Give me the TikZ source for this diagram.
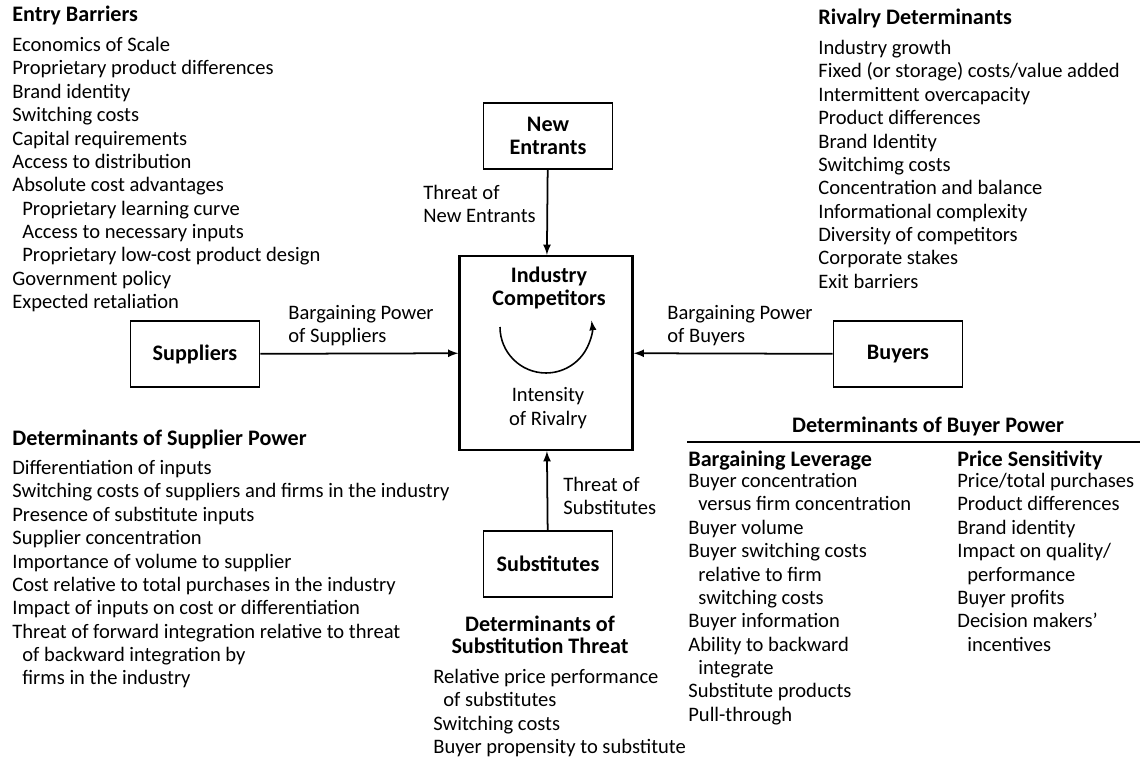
\documentclass[tikz,border=0pt]{standalone}
\usepackage{fontspec}
\setmainfont{Carlito}
\def\diagfont{\fontsize{11.7pt}{13.3pt}\selectfont}
\def\diagbold{\fontsize{12.6pt}{12.8pt}\selectfont\bfseries}

\begin{document}
\begin{tikzpicture}[x=0.02cm,y=-0.02cm,>=latex,
  box/.style={draw,line width=1pt,minimum width=2.58cm,minimum height=1.32cm,font=\diagbold},
  txt/.style={align=left,anchor=north west,inner sep=0pt,font=\diagfont},
  head/.style={anchor=base west,inner sep=0pt,font=\diagbold}]
\useasboundingbox (0,0) rectangle (1147,757);
\def\hForce{354}
\path
(546,353) node [draw,line width=1.3pt,minimum width=3.46cm,minimum height=3.88cm] (cmp) {}
(548,136) node [box,align=center] (new) {New\\Entrants}
(195,\hForce) node [box] (sup) {Suppliers}
(898,\hForce) node [box] (buy) {Buyers}
(548,564) node [box] (sub) {Substitutes}
;
\node [font=\diagbold,align=center] (cmpName) at (549,288) {Industry\\Competitors};
\node [font=\diagfont,align=center] (rivalry) at (548,408) {Intensity\\of Rivalry};
\draw[->,line width=0.9pt] ([shift={(-46,-26)}]cmp.center) arc[start angle=180,end angle=368,radius=0.92cm];

\begin{scope}[every path/.style={draw,line width=1pt}]
\path[->] (new) -- (cmp);
\path[->] (sup) -- (cmp);
\path[->] (buy) -- (cmp);
\path[->] (sub) -- (cmp);
\end{scope}

% arrow labels
\path
(423,185) node [txt] (lblNew) {Threat of\\New Entrants}
(288,305) node [txt] (lblSup) {Bargaining Power\\of Suppliers}
(667,305) node [txt] (lblBuy) {Bargaining Power\\of Buyers}
(563,477) node [txt] (lblSub) {Threat of\\Substitutes}
;

% determinants
\path
(12,22) node [head] (entryHead) {Entry Barriers}
(12,37) node [txt] (entryList) {Economics of Scale\\
  Proprietary product differences\\
  Brand identity\\
  Switching costs\\
  Capital requirements\\
  Access to distribution\\
  Absolute cost advantages\\
  \hspace*{0.2cm}Proprietary learning curve\\
  \hspace*{0.2cm}Access to necessary inputs\\
  \hspace*{0.2cm}Proprietary low-cost product design\\
  Government policy\\
  Expected retaliation}
(818,25) node [head] (rivHead) {Rivalry Determinants}
(818,40) node [txt] (rivList) {Industry growth\\
  Fixed (or storage) costs/value added\\
  Intermittent overcapacity\\
  Product differences\\
  Brand Identity\\
  Switchimg costs\\
  Concentration and balance\\
  Informational complexity\\
  Diversity of competitors\\
  Corporate stakes\\
  Exit barriers}
(12,445) node [head] (supHead) {Determinants of Supplier Power}
(12,460) node [txt] (supList) {Differentiation of inputs\\
  Switching costs of suppliers and firms in the industry\\
  Presence of substitute inputs\\
  Supplier concentration\\
  Importance of volume to supplier\\
  Cost relative to total purchases in the industry\\
  Impact of inputs on cost or differentiation\\
  Threat of forward integration relative to threat\\
  \hspace*{0.2cm}of backward integration by\\
  \hspace*{0.2cm}firms in the industry}
(540,635) node [font=\diagbold,align=center] (subHead) {Determinants of\\Substitution Threat}
(433,669) node [txt] (subList) {Relative price performance\\
  \hspace*{0.2cm}of substitutes\\
  Switching costs\\
  Buyer propensity to substitute}
(928,426) node [font=\diagbold] (buyHead) {Determinants of Buyer Power}
(688,466) node [head] (levHead) {Bargaining Leverage}
(688,473) node [txt] (levList) {Buyer concentration\\
  \hspace*{0.2cm}versus firm concentration\\
  Buyer volume\\
  Buyer switching costs\\
  \hspace*{0.2cm}relative to firm\\
  \hspace*{0.2cm}switching costs\\
  Buyer information\\
  Ability to backward\\
  \hspace*{0.2cm}integrate\\
  Substitute products\\
  Pull-through}
(957,466) node [head] (priceHead) {Price Sensitivity}
(957,473) node [txt] (priceList) {Price/total purchases\\
  Product differences\\
  Brand identity\\
  Impact on quality/\\
  \hspace*{0.2cm}performance\\
  Buyer profits\\
  Decision makers'\\
  \hspace*{0.2cm}incentives}
;
\draw[line width=0.9pt] (687,442) -- (1140,442);
\end{tikzpicture}
\end{document}
